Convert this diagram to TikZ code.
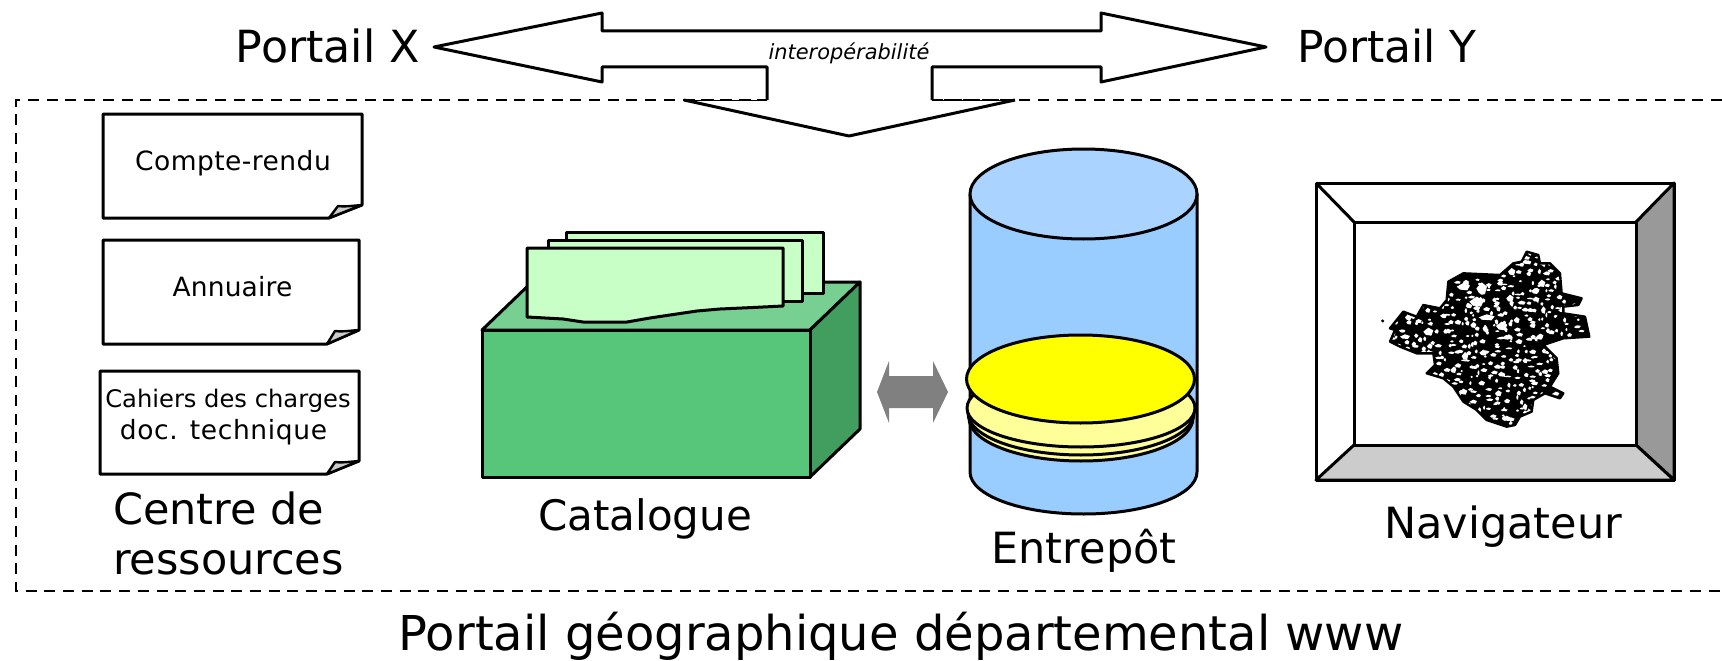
\documentclass[tikz,border=0pt]{standalone}
\usepackage{fontspec}
\setmainfont{DejaVu Sans}
\definecolor{pureyellow}{RGB}{255,255,0}
\definecolor{paleyellow}{RGB}{255,255,153}
\definecolor{cardgreen}{RGB}{199,255,199}
\definecolor{cyltop}{RGB}{170,212,255}
\definecolor{cylbody}{RGB}{153,204,255}
\tikzset{
  x=1pt,y=-1pt,
  ln/.style={draw=black,line width=3pt,line join=round},
  lnt/.style={draw=black,line width=3pt,line join=round},
  framedash/.style={black,line width=2.8pt,dash pattern=on 11pt off 7.7pt},
  lab/.style={inner sep=0pt,outer sep=0pt,text=black,anchor=center,align=center},
  big/.style={lab,font=\fontsize{43}{50}\selectfont},
  doc/.style={lnt,fill=white},
  fold/.style={lnt,line width=2.4pt,fill=black!20},
  card/.style={lnt,fill=cardgreen},
}
\newcommand{\docshape}[6]{% left top right bottom foldx foldy
  \path[doc] (#1,#2) -- (#3,#2) -- (#3,#6) -- (#5,#4) -- (#1,#4) -- cycle;
  \path[fold] (#3,#6) .. controls (#3-12,#6+1) and (#3-18,#6+2) .. (#3-24,#6+1) -- (#5,#4) -- cycle;
}
\newcommand{\docfont}[1]{\fontsize{26.5}{32}\selectfont\addfontfeature{LetterSpace=#1}}
\begin{document}
\begin{tikzpicture}
\useasboundingbox (0,0) rectangle (1722,661);
\fill[white] (0,0) rectangle (1722,661);
% dashed frame, open beyond the right edge of the page
\draw[framedash] (1722,100) -- (16,100) -- (16,591) -- (1722,591);
% big interoperability arrow
\fill[white] (434,47) -- (602,13) -- (602,31) -- (1101,31) -- (1101,13) -- (1266,47) -- (1101,82) -- (1101,67) -- (932,67) -- (932,100) -- (1015,100) -- (849,136) -- (684,100) -- (767,100) -- (767,67) -- (602,67) -- (602,82) -- cycle;
\draw[ln] (767,100) -- (767,67) -- (602,67) -- (602,82) -- (434,47) -- (602,13) -- (602,31) -- (1101,31) -- (1101,13) -- (1266,47) -- (1101,82) -- (1101,67) -- (932,67) -- (932,100);
\draw[ln] (684,100) -- (849,136) -- (1015,100);
\draw[black,line width=1pt] (684,100) -- (767,100) (932,100) -- (1015,100);
\draw[framedash] (684,100) -- (767,100);
\draw[framedash] (932,100) -- (1015,100);
\node[lab,font=\fontsize{20.9}{25}\selectfont\itshape] (interop) at (849,53) {interopérabilité};
\node[big,font=\fontsize{44.3}{50}\selectfont] (portx) at (328,46) {Portail X};
\node[big,font=\fontsize{44}{50}\selectfont] (porty) at (1387,46) {Portail Y};
% docs
\docshape{103}{114}{362}{218}{329}{205}
\docshape{103}{240}{359}{344}{327}{330}
\docshape{100}{371}{359}{474}{327}{461}
\node[lab] (d1) at (233,163) {\docfont{1.7}Compte-rendu};
\node[lab] (d2) at (232.5,287) {\docfont{0.5}Annuaire};
\node[lab] (d3) at (228,417) {{\fontsize{24.2}{32}\selectfont Cahiers des charges}\\[5pt]{\docfont{2.4}doc. technique\hspace*{9pt}}};
\node[big,align=left,anchor=north west] (cr) at (113,492) {Centre de\\ressources};
% catalogue box
\path[lnt,fill={rgb,255:red,119;green,208;blue,146}] (482,330) -- (532,282) -- (860,282) -- (810,330) -- cycle;
\path[lnt,fill={rgb,255:red,66;green,158;blue,95}] (810,330) -- (860,282) -- (860,429) -- (810,477) -- cycle;
\path[lnt,fill={rgb,255:red,87;green,197;blue,122}] (482,330) rectangle (810,477);
\path[card] (566,232) rectangle (823,293);
\path[card] (548,240) rectangle (802,301);
\path[card] (527,248) -- (783,248) -- (783,306) -- (753,307.5) -- (720,309) -- (697,311) -- (670,315) -- (650,318) -- (627,322) -- (583,322) -- (563,319) -- (527,317) -- cycle;
\node[lab,font=\fontsize{42}{50}\selectfont] (cat) at (645,519) {Catalogue};
% grey double arrow
\fill[black!50] (877,392) -- (889,361) -- (889,376) -- (933,376) -- (933,361) -- (948,392) -- (933,423) -- (933,408) -- (889,408) -- (889,423) -- cycle;
% cylinder
\path[lnt,fill=cylbody] (970,194) -- (970,472) arc[start angle=180,end angle=360,x radius=113.5,y radius=-42] -- (1197,194) -- cycle;
\path[lnt,fill=cyltop] (1083.5,194) ellipse[x radius=113.5,y radius=45];
\path[lnt,fill=paleyellow] (1081,418) ellipse[x radius=112,y radius=43];
\path[lnt,fill=paleyellow] (1081,413) ellipse[x radius=113,y radius=42];
\path[lnt,fill=paleyellow] (1081,408) ellipse[x radius=114,y radius=39];
\path[lnt,fill=pureyellow] (1080.5,379) ellipse[x radius=114,y radius=44];
\node[big] (ent) at (1084,551) {Entrepôt};
% navigator
\path[lnt,fill=white] (1316,183) rectangle (1674,480);
\path[lnt,fill=black!40] (1674,183) -- (1636,222) -- (1636,445) -- (1674,480) -- cycle;
\path[lnt,fill=black!20] (1316,480) -- (1354,445) -- (1636,445) -- (1674,480) -- cycle;
\path[lnt,fill=white] (1354,222) rectangle (1636,445);
\draw[lnt] (1316,183) -- (1354,222);
\node[big] (nav) at (1503,527) {Navigateur};
% map
\begin{scope}[shift={(1300,230)},x=0.3333pt,y=-0.3333pt]
\def\mapoutline{(680,65)--(715,75)--(720,100)--(750,100)--(780,130)--(785,190)--(845,205)--(835,225)--(790,230)--(790,250)--(855,260)--(868,320)--(790,325)--(730,345)--(770,385)--(775,430)--(750,470)--(790,490)--(780,505)--(735,490)--(700,510)--(695,545)--(660,560)--(645,585)--(620,590)--(560,570)--(530,540)--(490,515)--(460,470)--(430,445)--(380,430)--(405,405)--(400,370)--(350,370)--(300,350)--(270,335)--(285,300)--(270,295)--(310,245)--(350,260)--(370,225)--(420,235)--(440,210)--(445,155)--(490,130)--(600,135)--(640,100)--(665,95)--cycle}
\fill[black] \mapoutline;
\fill[black] (248,273) circle[radius=5];
\begin{scope}
\clip \mapoutline;
\pgfmathsetseed{4217}
\foreach \a in {270,292,...,870}{\foreach \b in {70,92,...,590}{
  \pgfmathsetmacro{\ax}{\a+14*rand}
  \pgfmathsetmacro{\bx}{\b+14*rand}
  \pgfmathsetmacro{\w}{3+8*rnd}
  \pgfmathsetmacro{\h}{2.5+5.5*rnd}
  \fill[white] (\ax-\w,\bx) -- (\ax,\bx-\h) -- (\ax+\w,\bx-0.3*\h) -- (\ax+0.6*\w,\bx+\h) -- (\ax-0.5*\w,\bx+0.8*\h) -- cycle;
}}
\foreach \a/\b/\w/\h in {490/170/20/11,545/175/16/18,530/215/22/15,560/262/24/9,605/288/17/13,635/125/11/11,685/97/9/6,740/130/11/6,725/160/11/11,600/160/9/7,630/205/11/11,665/218/12/6,690/240/11/6,705/183/11/9,730/240/7/11,650/270/9/9,520/285/9/9,555/295/7/11,325/262/10/9,385/305/15/12,315/320/15/7,495/378/10/12,550/368/12/9,735/425/10/7,460/420/9/9,490/485/12/9,520/515/11/6,595/490/10/9,620/565/12/8,675/530/7/10}
{\fill[white] (\a-\w,\b) -- (\a,\b-\h) -- (\a+\w,\b-0.3*\h) -- (\a+0.6*\w,\b+\h) -- (\a-0.5*\w,\b+0.8*\h) -- cycle;}
\end{scope}
\draw[black,line width=2.4pt,line join=round] \mapoutline;
\end{scope}
\node[lab,font=\fontsize{48}{56}\selectfont] (title) at (901,636) {Portail géographique départemental www};
\end{tikzpicture}
\end{document}
